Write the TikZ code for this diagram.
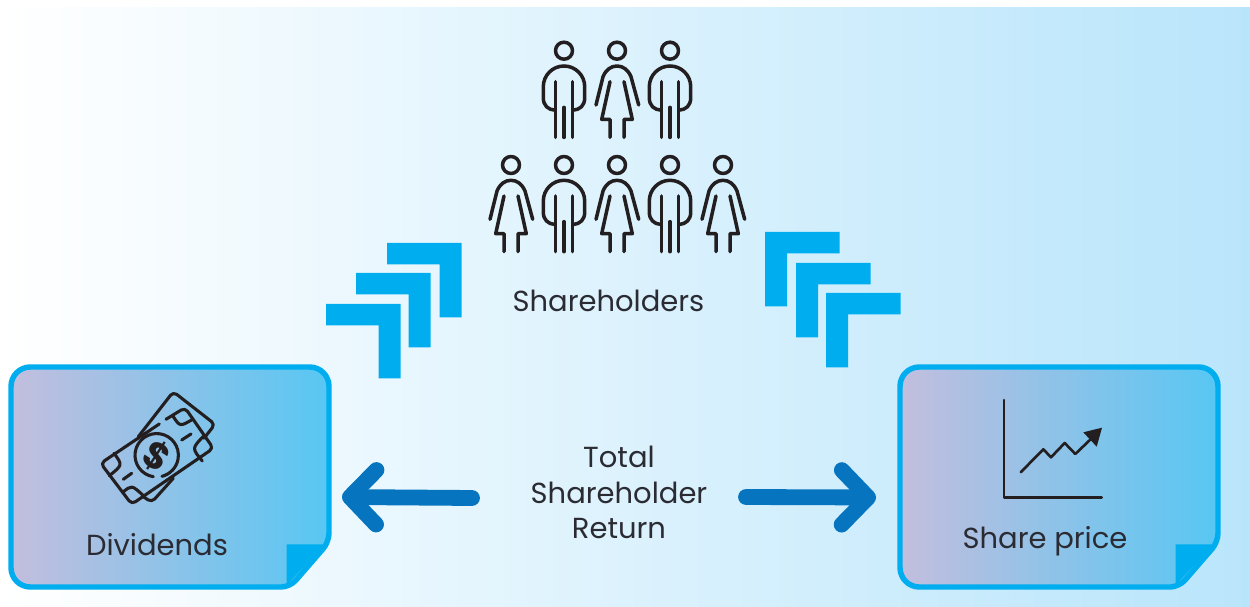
\documentclass[tikz,border=0pt]{standalone}
\usepackage{fontspec}
\setmainfont{Poppins}
\usetikzlibrary{arrows.meta}
\definecolor{notecyan}{HTML}{00AEEF}
\definecolor{arrowblue}{HTML}{0674BE}
\definecolor{inkgrey}{HTML}{231F20}
\definecolor{labelgrey}{HTML}{2B2B33}
\definecolor{noteleft}{HTML}{C3BEDE}
\definecolor{noteright}{HTML}{57C7F3}
\definecolor{skyright}{HTML}{B9E5FB}
\tikzset{
  person/.style={inkgrey,line width=2pt,line cap=round,line join=round},
  icon/.style={inkgrey,line width=1.5pt,line cap=round,line join=round},
  money/.style={icon,line width=1.75pt},
  label/.style={labelgrey,font=\fontsize{16.5pt}{20pt}\selectfont,align=center},
  chevron/.style={fill=notecyan,draw=none},
  bigarrow/.style={arrowblue,line width=9pt,line cap=round,
    -{Straight Barb[round,length=15pt,width=31pt]}},
  man/.pic={
    \draw[person] (0,0) circle (8.5);
    \draw[person] (-9,59.5) .. controls (-16,59) and (-20.7,55) .. (-20.7,47) -- (-20.7,36)
      .. controls (-20.7,24.6) and (-11.4,15.3) .. (0,15.3)
      .. controls (11.4,15.3) and (20.7,24.6) .. (20.7,36) -- (20.7,47)
      .. controls (20.7,55) and (16,59) .. (9,59.5);
    \draw[person] (-8.7,31) -- (-8.7,86.7);
    \draw[person] (8.7,31) -- (8.7,86.7);
    \draw[person] (0,56.7) -- (0,86.7);
  },
  woman/.pic={
    \draw[person] (0,0) circle (8.5);
    \draw[person] (-21,54.3) -- (-14,26) .. controls (-11,19) and (-6,15.3) .. (0,15.3)
      .. controls (6,15.3) and (11,19) .. (14,26) -- (21.7,54.3);
    \draw[person] (-7,31) -- (-15.3,68.7) -- (-7,68.7) -- (-7,86.7);
    \draw[person] (7,31) -- (15.3,68.7) -- (7,68.7) -- (7,86.7);
  },
  notebox/.pic={
    \path[draw=notecyan,line width=3.1pt,left color=noteleft,right color=noteright]
      [rounded corners=11pt] (0,0) -- (318,0) [rounded corners=5pt] -- (318,175) -- (279,220)
      [rounded corners=11pt] -- (0,220) -- cycle;
    \fill[notecyan] (275.7,177.3) -- (314,177.3) -- (275.7,218) -- cycle;
  }
}
\begin{document}
\begin{tikzpicture}[x=0.02cm,y=-0.02cm]
\useasboundingbox (0,0) rectangle (1250,607);
\shade[left color=white,right color=skyright] (0,8) rectangle (1250,607);

\foreach \px/\py/\who in {564/50.7/man,617/50.7/woman,670/50.7/man,
  511/165/woman,564/165/man,617/165/woman,670/165/man,723/165/woman}
  \pic at (\px,\py) {\who};

\foreach \ax/\ay in {387/243,356/273,326/304}
  \fill[chevron] (\ax,\ay) -- ++(74.5,0) -- ++(0,74.5) -- ++(-22,0) -- ++(0,-53) -- ++(-52.5,0) -- cycle;
\foreach \ax/\ay in {765/232,796/263,826/293}
  \fill[chevron] (\ax,\ay) -- ++(74.5,0) -- ++(0,21.5) -- ++(-52.5,0) -- ++(0,53) -- ++(-22,0) -- cycle;

\node[label] (holders) at (608.5,301) {Shareholders};

\pic at (11,367) {notebox};
\pic at (900,367) {notebox};

% banknotes
\draw[money,rounded corners=2.5pt] (138.3,436.7) -- (173.3,391.7) -- (215,424.3) -- (204,438.3);
\draw[money,rounded corners=2.5pt] (173.3,478.3) -- (151.7,502.3) -- (143.3,496.7);
\draw[money,rounded corners=2.5pt] (166,419.3) -- (185,407.7) -- (213.3,448.3) -- (131.7,504.3) -- (100.7,463.3) -- (159.3,424);
\draw[money] (173.3,416.7) .. controls (180,426.7) .. (192.7,419.3);
\draw[money] (204,435.7) .. controls (191.7,448.3) .. (202.3,461);
\draw[money] (114,453.3) .. controls (122.7,465) .. (109.3,475.7);
\draw[money] (122.7,492.3) .. controls (131.7,485) .. (142.7,495);
\draw[money] (123.3,479.3) -- (131.7,473.3);
\draw[money] (181.7,440) -- (191,434);
\draw[money] (153.3,476.7) arc[start angle=99,end angle=436,radius=21.7];
\node[inkgrey,rotate=-33,font=\fontsize{21pt}{21pt}\bfseries\selectfont] (dollar) at (156.7,456) {\$};
\node[label] (dividends) at (157,545) {Dividends};

% chart
\draw[icon] (1004,400) -- (1004,497.7) -- (1101.7,497.7);
\draw[icon] (1020.7,472.3) -- (1043.3,449.3) -- (1051,457.3) -- (1064.7,443) -- (1075.3,454) -- (1093.3,436.7);
\fill[inkgrey] (1083.3,432.3) -- (1102,427.7) -- (1096.7,446.7) -- cycle;
\node[label] (price) at (1045,541) {Share price};

\node[label] (total) at (619,492.5) {Total\\Shareholder\\Return};
\coordinate (divtail) at (472,498);
\coordinate (divtip) at (342,497);
\coordinate (pricetail) at (746,497);
\coordinate (pricetip) at (876,497.5);
\draw[bigarrow] (divtail) -- (divtip);
\draw[bigarrow] (pricetail) -- (pricetip);
\end{tikzpicture}
\end{document}
